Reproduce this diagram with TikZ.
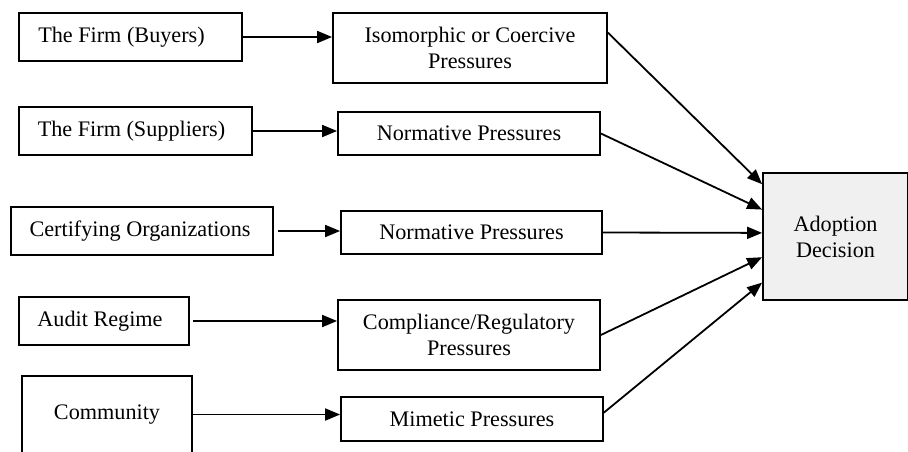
\documentclass[tikz,border=0pt]{standalone}
\usepackage{fontspec}
\setmainfont{Liberation Serif}
\usetikzlibrary{calc,arrows.meta}
\definecolor{adoptfill}{RGB}{240,240,240}
\begin{document}
\begin{tikzpicture}[x=0.5pt,y=-0.5pt,
  box/.style={draw, line width=0.9pt, rectangle, inner sep=0pt, align=center,
    font=\fontsize{11.1}{13}\selectfont, minimum height=24pt},
  conn/.style={line width=0.9pt, -{Triangle[length=7.5pt,width=6pt]}}]
\useasboundingbox (0,0) rectangle (908,451);
\begin{scope}
\clip (0,0) rectangle (908,451);
% left column
\node[box, minimum width=111.5pt] (buy) at (130.5,37) {The Firm (Buyers)\kern9pt};
\node[box, minimum width=116.5pt] (sup) at (135.5,131) {The Firm (Suppliers)\kern4pt};
\node[box, minimum width=131pt] (cert) at (142,231) {Certifying Organizations\kern2pt};
\node[box, minimum width=85pt] (audit) at (104,321) {Audit Regime\kern4pt};
\node[box, minimum width=85pt, minimum height=38.5pt] (comm) at (107,414.5) {Community};
% middle column
\node[box, minimum width=137pt, minimum height=35pt] (iso) at (470,48) {Isomorphic or Coercive\\Pressures};
\node[box, minimum width=131pt, minimum height=21.5pt] (norm1) at (469,133.5) {Normative Pressures};
\node[box, minimum width=130.5pt, minimum height=21.5pt] (norm2) at (471.5,232.5) {Normative Pressures};
\node[box, minimum width=131pt, minimum height=35pt] (comp) at (469,335) {Compliance/Regulatory\\Pressures};
\node[box, minimum width=131pt, minimum height=22pt] (mim) at (472,419) {Mimetic Pressures};
% target
\node[box, fill=adoptfill, minimum width=72.5pt, minimum height=63.5pt] (adopt) at (835.5,236.5) {Adoption\\Decision};
\end{scope}
% left arrows
\draw[conn] (buy.east) -- (buy.east -| iso.west);
\draw[conn] (sup.east) -- (sup.east -| norm1.west);
\draw[conn] ([xshift=2pt]cert.east) -- (cert.east -| norm2.west);
\draw[conn] ([xshift=1.5pt]audit.east) -- (audit.east -| comp.west);
\draw[conn] (comm.east) -- (comm.east -| mim.west);
% right arrows
\coordinate (e1) at ($(adopt.north west)!0.094!(adopt.south west)$);
\coordinate (e2) at ($(adopt.north west)!0.291!(adopt.south west)$);
\coordinate (e3) at ($(adopt.north west)!0.472!(adopt.south west)$);
\coordinate (e4) at ($(adopt.north west)!0.661!(adopt.south west)$);
\coordinate (e5) at ($(adopt.north west)!0.858!(adopt.south west)$);
\draw[conn] ($(iso.north east)!0.286!(iso.south east)$) -- (e1);
\draw[conn] (norm1.east) -- (e2);
\draw[conn] (norm2.east) -- (e3);
\draw[conn] (comp.east) -- (e4);
\draw[conn] ($(mim.north east)!0.36!(mim.south east)$) -- (e5);
\end{tikzpicture}
\end{document}
